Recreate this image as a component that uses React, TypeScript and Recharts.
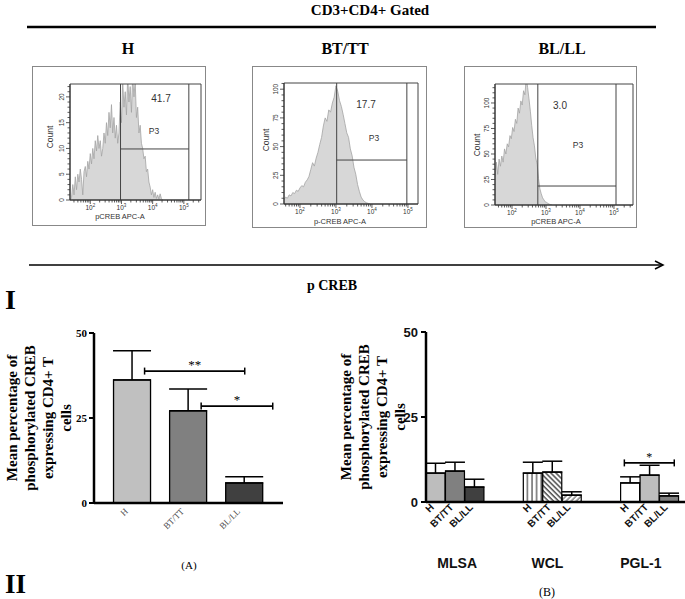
import React from 'react';
import { AreaChart, Area, XAxis, YAxis, ReferenceLine, ReferenceArea, BarChart, Bar, ErrorBar, Cell } from 'recharts';

const SERIF = '"Liberation Serif", "Times New Roman", serif';
const SANS = '"Liberation Sans", Arial, sans-serif';

// ---- Flow histograms: [log10 pCREB intensity, count] ----
const histH: [number, number][] = [
  [1.36, 0], [1.40, 0.5], [1.44, 3], [1.48, 1], [1.52, 4.5], [1.56, 2], [1.60, 5], [1.64, 3.5], [1.68, 6], [1.72, 4],
  [1.76, 1], [1.80, 5.5], [1.84, 6.5], [1.88, 4.5], [1.92, 7.5], [1.96, 6], [2.00, 9], [2.04, 7], [2.08, 10], [2.12, 8],
  [2.16, 11.5], [2.20, 9.5], [2.24, 12.5], [2.28, 10], [2.32, 11.5], [2.36, 8.5], [2.40, 10], [2.44, 13], [2.48, 11], [2.52, 15],
  [2.56, 12.5], [2.60, 17], [2.64, 14], [2.68, 18.5], [2.72, 13], [2.76, 16], [2.80, 12], [2.84, 14.5], [2.88, 11], [2.92, 13],
  [2.96, 19], [3.00, 15], [3.04, 23], [3.08, 18], [3.12, 21], [3.16, 16.5], [3.20, 24], [3.24, 19], [3.28, 22], [3.32, 17],
  [3.36, 24], [3.40, 20], [3.44, 23], [3.48, 16], [3.52, 18], [3.56, 13], [3.60, 14.5], [3.64, 11], [3.68, 10], [3.72, 8],
  [3.76, 8.5], [3.80, 5.5], [3.84, 6], [3.88, 3.5], [3.92, 2.5], [3.96, 1], [4.00, 2], [4.04, 0.5], [4.08, 1.5], [4.12, 0.3],
  [4.16, 1], [4.20, 0.2], [4.24, 1.2], [4.28, 0.3], [4.32, 0],
];
const histBT: [number, number][] = [
  [1.56, 4], [1.60, 6], [1.65, 5], [1.70, 8], [1.75, 7], [1.80, 10], [1.85, 9], [1.90, 12], [1.95, 11], [2.00, 14],
  [2.05, 16], [2.10, 15], [2.15, 19], [2.20, 21], [2.25, 24], [2.30, 30], [2.35, 36], [2.40, 33], [2.45, 40], [2.50, 45],
  [2.55, 52], [2.60, 58], [2.65, 68], [2.70, 75], [2.75, 72], [2.80, 82], [2.85, 80], [2.90, 88], [2.95, 93], [3.00, 103],
  [3.05, 98], [3.10, 90], [3.15, 85], [3.20, 78], [3.25, 70], [3.30, 62], [3.35, 58], [3.40, 48], [3.45, 42], [3.50, 32],
  [3.55, 26], [3.60, 17], [3.65, 11], [3.70, 6], [3.75, 3.5], [3.80, 2], [3.85, 1], [3.90, 0.5], [3.95, 0],
];
const histBL: [number, number][] = [
  [1.50, 28], [1.54, 42], [1.58, 30], [1.62, 45], [1.66, 38], [1.70, 48], [1.74, 42], [1.78, 55], [1.82, 50], [1.86, 60],
  [1.90, 57], [1.94, 68], [1.98, 65], [2.02, 76], [2.06, 72], [2.10, 84], [2.14, 80], [2.18, 95], [2.22, 90], [2.26, 102],
  [2.30, 98], [2.34, 112], [2.38, 108], [2.42, 125], [2.46, 115], [2.50, 104], [2.54, 92], [2.58, 78], [2.62, 66], [2.66, 58],
  [2.70, 46], [2.74, 40], [2.78, 26], [2.82, 16], [2.86, 11], [2.90, 7], [2.94, 5], [2.98, 3], [3.02, 2.5], [3.06, 1.5],
  [3.10, 0.8], [3.14, 0.3], [3.18, 0],
];
const gatePct = ['41.7', '17.7', '3.0'];
const histTitles = ['H', 'BT/TT', 'BL/LL'];

// ---- Panel A ----
const catsA = ['H', 'BT/TT', 'BL/LL'];
const meanA = [36.2, 27.1, 5.9];
const errA = [8.6, 6.4, 1.8];
const fillA = ['#c0c0c0', '#808080', '#404040'];

// ---- Panel B ----
const groupsB = ['MLSA', 'WCL', 'PGL-1'];
const subB = ['H', 'BT/TT', 'BL/LL'];
const meanMLSA = [8.5, 9.1, 4.4];
const errMLSA = [2.9, 2.6, 2.3];
const meanWCL = [8.5, 8.8, 2.0];
const errWCL = [3.2, 3.2, 1.0];
const meanPGL = [5.6, 7.9, 1.8];
const errPGL = [1.8, 2.9, 0.8];
const fillB = [
  ['#bdbdbd', '#808080', '#404040'],
  ['url(#vstripe)', 'url(#hatchBack)', 'url(#hatchFwd)'],
  ['#ffffff', '#bdbdbd', '#808080'],
];

const yLabelLines = ['Mean percentage of', 'phosphorylated CREB', 'expressing CD4+ T', 'cells'];

const dataA = catsA.map((c, i) => ({ i, name: c, v: meanA[i], e: [0, errA[i]] }));

const meansB = [meanMLSA, meanWCL, meanPGL];
const errsB = [errMLSA, errWCL, errPGL];
const rowsB: any[] = [];
groupsB.forEach((g, gi) => {
  subB.forEach((s, si) => {
    rowsB.push({ key: `${g}|${s}`, group: g, sub: s, si, v: meansB[gi][si], e: [0, errsB[gi][si]], fill: fillB[gi][si] });
  });
  if (gi < groupsB.length - 1) {
    rowsB.push({ key: `gap${gi}a`, v: null, e: null });
    rowsB.push({ key: `gap${gi}b`, v: null, e: null });
  }
});

type Box = { l: number; t: number; r: number; b: number };

function Histo(props: {
  box: Box; plot: Box; pairs: [number, number][]; xDomain: [number, number]; yMax: number;
  yMajor: number[]; yMinorStep: number; gate: { x1: number; x2: number; y: number };
}) {
  const { box, plot, pairs, xDomain, yMax, yMajor, yMinorStep, gate } = props;
  const data = pairs.map(([x, c]) => ({ x, c }));
  const W = box.r - box.l;
  const H = box.b - box.t;
  const majors = [2, 3, 4, 5];
  const xTicks: number[] = [];
  for (let d = 1; d <= 5; d++) {
    for (let k = 1; k <= 9; k++) {
      const v = k === 1 ? d : d + Math.log10(k);
      if (v >= xDomain[0] && v <= xDomain[1]) xTicks.push(v);
    }
  }
  const yTicks: number[] = [];
  for (let v = 0; v <= yMax; v += yMinorStep) yTicks.push(v);
  const XT = (p: any) => {
    const v = p.payload.value;
    const isMajor = majors.includes(v);
    return (
      <g>
        <line x1={p.x} y1={p.y} x2={p.x} y2={p.y + (isMajor ? 4 : 2.5)} stroke="#333" strokeWidth={0.8} />
        {isMajor && (
          <text x={p.x} y={p.y + 10} textAnchor="middle" fontSize={6.5} fill="#333" fontFamily={SANS}>
            10<tspan dy={-3} fontSize={4.5}>{v}</tspan>
          </text>
        )}
      </g>
    );
  };
  const YT = (p: any) => {
    const v = p.payload.value;
    const isMajor = yMajor.includes(v);
    return (
      <g>
        <line x1={p.x} y1={p.y} x2={p.x - (isMajor ? 4 : 2.5)} y2={p.y} stroke="#333" strokeWidth={0.8} />
        {isMajor && (
          <text transform={`translate(${p.x - 6},${p.y}) rotate(-90)`} textAnchor="middle" fontSize={6.5} fill="#333" fontFamily={SANS}>
            {v}
          </text>
        )}
      </g>
    );
  };
  return (
    <div style={{ position: 'absolute', left: box.l, top: box.t, width: W, height: H }}>
      <div style={{ position: 'absolute', left: 0, top: 0, width: W, height: H, border: '1px solid #888', boxSizing: 'border-box' }} />
      <div style={{ position: 'absolute', left: 0, top: 0 }}>
        <AreaChart width={W} height={H} data={data} margin={{ top: plot.t - box.t, right: box.r - plot.r, left: 0, bottom: 0 }}>
          <XAxis type="number" dataKey="x" domain={xDomain} allowDataOverflow ticks={xTicks} interval={0}
            tickSize={0} tickMargin={0} tickLine={false} tick={XT} height={box.b - plot.b} axisLine={{ stroke: '#333' }} />
          <YAxis type="number" domain={[0, yMax]} allowDataOverflow ticks={yTicks} interval={0}
            width={plot.l - box.l} tickLine={false} tickSize={0} tickMargin={0} tick={YT} axisLine={{ stroke: '#333' }} />
          <Area type="linear" dataKey="c" fill="#d7d7d7" fillOpacity={1} stroke="#a3a3a3" strokeWidth={0.8}
            isAnimationActive={false} dot={false} activeDot={false} />
          <ReferenceArea x1={xDomain[0]} x2={xDomain[1]} y1={0} y2={yMax} fill="none" stroke="#444" strokeWidth={1} />
          <ReferenceLine x={gate.x1} stroke="#444" strokeWidth={1} />
          <ReferenceLine x={gate.x2} stroke="#444" strokeWidth={1} />
          <ReferenceLine segment={[{ x: gate.x1, y: gate.y }, { x: gate.x2, y: gate.y }]} stroke="#444" strokeWidth={1} />
        </AreaChart>
      </div>
    </div>
  );
}

const sigShape = (dx1: number, dx2: number, label: string, fs: number) => (p: any) => {
  const a = p.x1 + dx1;
  const b = p.x2 + dx2;
  const y = p.y1;
  return (
    <g>
      <line x1={a} y1={y} x2={b} y2={y} stroke="#000" strokeWidth={1.8} />
      <line x1={a} y1={y - 3.5} x2={a} y2={y + 3.5} stroke="#000" strokeWidth={1.5} />
      <line x1={b} y1={y - 3.5} x2={b} y2={y + 3.5} stroke="#000" strokeWidth={1.5} />
      <text x={(a + b) / 2} y={y - 2} textAnchor="middle" fontSize={fs} fontFamily={SERIF} fill="#000">{label}</text>
    </g>
  );
};

function ChartA() {
  const XT = (p: any) => (
    <text transform={`translate(${p.x - 3},${p.y + 9}) rotate(-45)`} textAnchor="end" fontSize={9} fill="#444" fontFamily={SERIF}>
      {catsA[Math.round(p.payload.value)]}
    </text>
  );
  const YT = (p: any) => (
    <text x={p.x} y={p.y} dy={4} textAnchor="end" fontSize={11} fontWeight="bold" fill="#000" fontFamily={SERIF}>{p.payload.value}</text>
  );
  return (
    <div style={{ position: 'absolute', left: 40, top: 320 }}>
      <BarChart width={250} height={240} data={dataA} margin={{ top: 13, right: 7, left: 0, bottom: 0 }}>
        <XAxis type="number" dataKey="i" domain={[-0.67, 2.7]} ticks={[0, 1, 2]} height={57} tickLine={false} tickSize={0} tickMargin={0}
          axisLine={{ stroke: '#000', strokeWidth: 2.5 }} tick={XT} interval={0} />
        <YAxis domain={[0, 50]} ticks={[0, 25, 50]} width={54} tickSize={5} tickMargin={2}
          axisLine={{ stroke: '#000', strokeWidth: 2.5 }} tickLine={{ stroke: '#000', strokeWidth: 2 }} tick={YT} />
        <Bar dataKey="v" barSize={37} stroke="#000" strokeWidth={1.3} isAnimationActive={false}>
          {dataA.map((d, i) => <Cell key={d.name} fill={fillA[i]} />)}
          <ErrorBar dataKey="e" width={19} stroke="#000" strokeWidth={1.5} direction="y" isAnimationActive={false} />
        </Bar>
        <ReferenceLine segment={[{ x: 0, y: 38.8 }, { x: 2, y: 38.8 }]} shape={sigShape(13, 1, '**', 13)} />
        <ReferenceLine segment={[{ x: 1, y: 28.5 }, { x: 2, y: 28.5 }]} shape={sigShape(13.5, 29, '*', 13)} />
      </BarChart>
    </div>
  );
}

function ChartB() {
  const grpDx = [2, -5, -9];
  const XT = (p: any) => {
    const row = rowsB[p.index];
    if (!row || !row.sub) return <g />;
    const gi = groupsB.indexOf(row.group);
    return (
      <g>
        <text transform={`translate(${p.x - 1},${p.y + 6}) rotate(-45)`} textAnchor="end" fontSize={10} fontWeight="bold" fill="#111" fontFamily={SANS}>
          {row.sub}
        </text>
        {row.si === 1 && (
          <text x={p.x + grpDx[gi]} y={p.y + 66} textAnchor="middle" fontSize={14} fontWeight="bold" fill="#111" fontFamily={SANS}>
            {row.group}
          </text>
        )}
      </g>
    );
  };
  const YT = (p: any) => (
    <text x={p.x} y={p.y} dy={4.5} textAnchor="end" fontSize={13} fontWeight="bold" fill="#111" fontFamily={SANS}>{p.payload.value}</text>
  );
  return (
    <div style={{ position: 'absolute', left: 370, top: 319 }}>
      <BarChart width={315} height={260} data={rowsB} margin={{ top: 13, right: 0, left: 0, bottom: 0 }}>
        <XAxis dataKey="key" height={77} padding={{ left: 0, right: 6 }} tickLine={false} tickSize={0} tickMargin={0}
          axisLine={{ stroke: '#000', strokeWidth: 2.5 }} tick={XT} interval={0} />
        <YAxis domain={[0, 50]} ticks={[0, 25, 50]} width={56} tickSize={5} tickMargin={3}
          axisLine={{ stroke: '#000', strokeWidth: 2.5 }} tickLine={{ stroke: '#000', strokeWidth: 2 }} tick={YT} />
        <Bar dataKey="v" barSize={19} stroke="#000" strokeWidth={1.2} isAnimationActive={false}>
          {rowsB.map((d) => <Cell key={d.key} fill={d.fill || 'none'} />)}
          <ErrorBar dataKey="e" width={10} stroke="#000" strokeWidth={1.5} direction="y" isAnimationActive={false} />
        </Bar>
        <ReferenceLine segment={[{ x: 'PGL-1|H', y: 11.5 }, { x: 'PGL-1|BL/LL', y: 11.5 }]} shape={sigShape(-6, 5, '*', 12)} />
      </BarChart>
    </div>
  );
}

function YLabel({ x0, cy }: { x0: number; cy: number }) {
  return (
    <g>
      {yLabelLines.map((s, i) => (
        <text key={s} transform={`translate(${x0 + i * 18},${cy}) rotate(-90)`} textAnchor="middle" dominantBaseline="central"
          fontSize={15} fontWeight="bold" fontFamily={SERIF} fill="#000">{s}</text>
      ))}
    </g>
  );
}

export default function App() {
  return (
    <div style={{ position: 'absolute', left: 0, top: 0, width: 685, height: 599, background: '#fff', overflow: 'hidden' }}>
      <svg width={0} height={0} style={{ position: 'absolute' }}>
        <defs>
          <pattern id="vstripe" width="4.6" height="4" patternUnits="userSpaceOnUse">
            <rect width="4.6" height="4" fill="#fff" />
            <line x1="1" y1="0" x2="1" y2="4" stroke="#222" strokeWidth="1" />
          </pattern>
          <pattern id="hatchBack" width="3.6" height="3.6" patternUnits="userSpaceOnUse" patternTransform="rotate(-45)">
            <rect width="3.6" height="3.6" fill="#fff" />
            <line x1="1" y1="0" x2="1" y2="3.6" stroke="#333" strokeWidth="1.3" />
          </pattern>
          <pattern id="hatchFwd" width="3.6" height="3.6" patternUnits="userSpaceOnUse" patternTransform="rotate(45)">
            <rect width="3.6" height="3.6" fill="#fff" />
            <line x1="1" y1="0" x2="1" y2="3.6" stroke="#666" strokeWidth="1.2" />
          </pattern>
        </defs>
      </svg>

      <Histo box={{ l: 32, t: 66, r: 206, b: 226 }} plot={{ l: 70, t: 84, r: 201, b: 200 }} pairs={histH}
        xDomain={[1.35, 5.55]} yMax={22.5} yMajor={[0, 5, 10, 15, 20]} yMinorStep={1} gate={{ x1: 2.97, x2: 5.16, y: 9.9 }} />
      <Histo box={{ l: 252, t: 66, r: 427, b: 228 }} plot={{ l: 284, t: 83, r: 418, b: 204 }} pairs={histBT}
        xDomain={[1.556, 5.28]} yMax={105.4} yMajor={[0, 25, 50, 75, 100]} yMinorStep={5} gate={{ x1: 3.02, x2: 4.97, y: 38.3 }} />
      <Histo box={{ l: 464, t: 66, r: 637, b: 228 }} plot={{ l: 495, t: 84, r: 633, b: 205 }} pairs={histBL}
        xDomain={[1.5, 5.56]} yMax={118.6} yMajor={[0, 25, 50, 75, 100]} yMinorStep={5} gate={{ x1: 2.76, x2: 5.06, y: 18.6 }} />

      <ChartA />
      <ChartB />

      <svg width={685} height={599} style={{ position: 'absolute', left: 0, top: 0, pointerEvents: 'none' }}>
        <text x={370} y={15} textAnchor="middle" fontSize={15} fontWeight="bold" fontFamily={SERIF}>CD3+CD4+ Gated</text>
        <line x1={27} y1={27} x2={656} y2={27} stroke="#000" strokeWidth={2.5} />
        {histTitles.map((t, i) => (
          <text key={t} x={[128, 345, 562][i]} y={54} textAnchor="middle" fontSize={16} fontWeight="bold" fontFamily={SERIF}>{t}</text>
        ))}

        <text x={161} y={102} textAnchor="middle" fontSize={10} fill="#333" fontFamily={SANS}>{gatePct[0]}</text>
        <text x={154} y={134} textAnchor="middle" fontSize={8.5} fill="#333" fontFamily={SANS}>P3</text>
        <text transform="translate(53,137) rotate(-90)" textAnchor="middle" fontSize={8.5} fill="#333" fontFamily={SANS}>Count</text>
        <text x={120} y={219} textAnchor="middle" fontSize={7.5} fill="#333" fontFamily={SANS}>pCREB APC-A</text>

        <text x={366} y={108} textAnchor="middle" fontSize={10} fill="#333" fontFamily={SANS}>{gatePct[1]}</text>
        <text x={374} y={141} textAnchor="middle" fontSize={8.5} fill="#333" fontFamily={SANS}>P3</text>
        <text transform="translate(269,140) rotate(-90)" textAnchor="middle" fontSize={8.5} fill="#333" fontFamily={SANS}>Count</text>
        <text x={340} y={224} textAnchor="middle" fontSize={7.5} fill="#333" fontFamily={SANS}>p-CREB APC-A</text>

        <text x={560} y={109} textAnchor="middle" fontSize={10} fill="#333" fontFamily={SANS}>{gatePct[2]}</text>
        <text x={578} y={148} textAnchor="middle" fontSize={8.5} fill="#333" fontFamily={SANS}>P3</text>
        <text transform="translate(480,145) rotate(-90)" textAnchor="middle" fontSize={8.5} fill="#333" fontFamily={SANS}>Count</text>
        <text x={556} y={224} textAnchor="middle" fontSize={7.5} fill="#333" fontFamily={SANS}>pCREB APC-A</text>

        <line x1={29} y1={265} x2={662} y2={265} stroke="#000" strokeWidth={1.5} />
        <polyline points="655,261 663,265 655,269" fill="none" stroke="#000" strokeWidth={1.5} />
        <text x={332} y={290} textAnchor="middle" fontSize={14} fontWeight="bold" fontFamily={SERIF}>p CREB</text>

        <text x={5} y={309} fontSize={28} fontWeight="bold" fontFamily={SERIF}>I</text>
        <text x={5} y={593} fontSize={27} fontWeight="bold" fontFamily={SERIF}>II</text>

        <YLabel x0={12} cy={418} />
        <YLabel x0={346} cy={417} />

        <text x={189} y={569} textAnchor="middle" fontSize={11} fontFamily={SERIF}>(A)</text>
        <text x={547} y={596} textAnchor="middle" fontSize={12} fontFamily={SERIF}>(B)</text>
      </svg>
    </div>
  );
}
